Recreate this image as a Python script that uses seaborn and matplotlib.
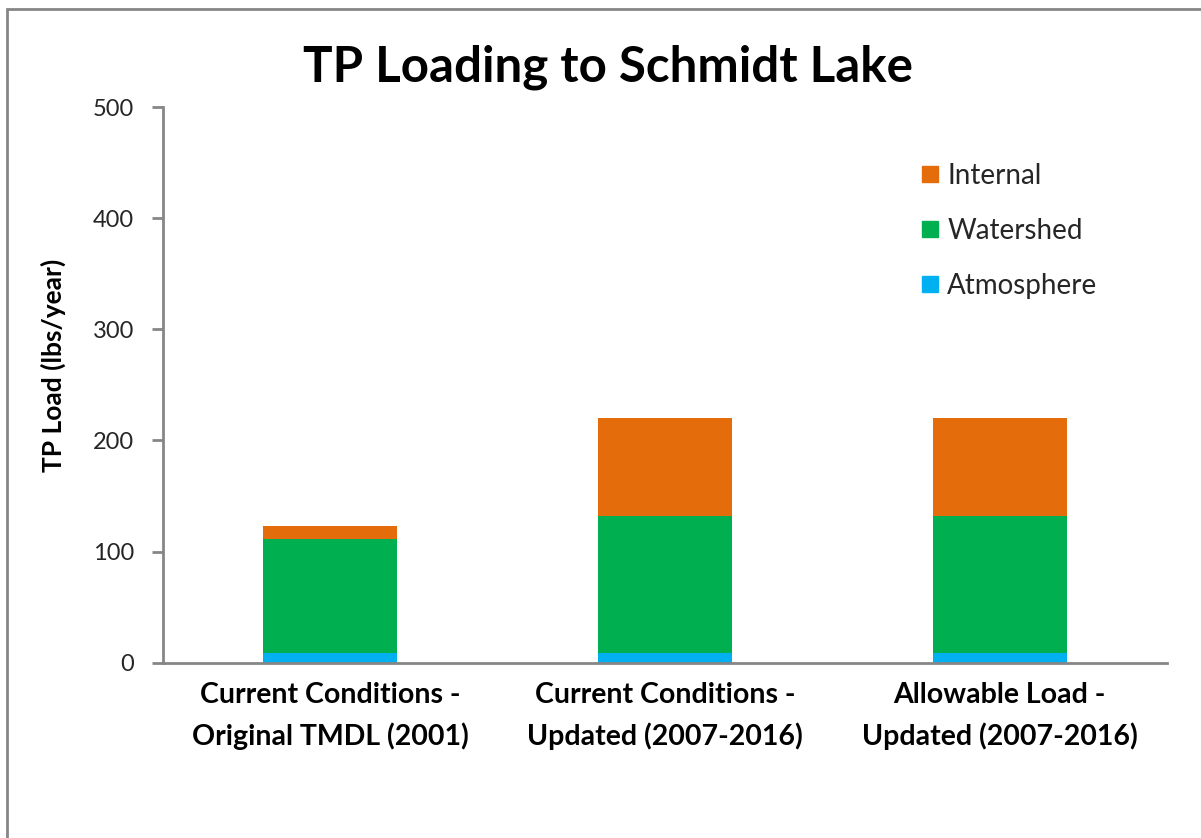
import numpy as np
import pandas as pd
import matplotlib.pyplot as plt
import seaborn as sns
from matplotlib.patches import Rectangle
from matplotlib.lines import Line2D

# data (lbs/year)
scenarios = ['Current Conditions -\nOriginal TMDL (2001)',
             'Current Conditions -\nUpdated (2007-2016)',
             'Allowable Load -\nUpdated (2007-2016)']
atmosphere = [9, 9, 9]
watershed = [102, 123, 123]
internal = [12, 88, 88]

sources = ['Atmosphere', 'Watershed', 'Internal']
colors = {'Atmosphere': '#00B0F0', 'Watershed': '#00B050', 'Internal': '#E46C0A'}

df = pd.DataFrame({'Scenario': scenarios, 'Atmosphere': atmosphere,
                   'Watershed': watershed, 'Internal': internal})
# cumulative tops so the stacks can be overdrawn from tallest to shortest
cum = df[sources].cumsum(axis=1)

sns.set_theme(style='white')
plt.rcParams['font.family'] = ['Lato', 'DejaVu Sans']

fig = plt.figure(figsize=(12.01, 8.38), dpi=100)
ax = fig.add_axes([163 / 1201, 1 - 662.7 / 838, (1167 - 163) / 1201, (662.7 - 107) / 838])

for src in reversed(sources):
    sns.barplot(x=df['Scenario'], y=cum[src], color=colors[src], width=0.4,
                saturation=1, ax=ax, linewidth=0)

ax.set_ylim(0, 500)
ax.set_xlim(-0.5, 2.5)
ax.set_yticks(range(0, 501, 100))
ax.set_xticks([0, 1, 2])
ax.set_xticklabels(scenarios, fontsize=20.5, fontweight='bold', linespacing=1.65)
ax.set_xticks([-0.5, 0.5, 1.5, 2.5], minor=True)
ax.tick_params(axis='x', which='major', length=0, pad=14, colors='#000000')
ax.tick_params(axis='x', which='minor', length=9, width=2, color='#868686', direction='out')
ax.tick_params(axis='y', length=8, width=2, color='#868686', direction='out',
               labelsize=17, labelcolor='#262626', left=True, pad=13)
ax.set_xlabel('')
ax.set_ylabel('TP Load (lbs/year)', fontsize=19, fontweight='bold', color='#000000')
ax.yaxis.set_label_coords(-0.097, 0.535)

for side in ['top', 'right']:
    ax.spines[side].set_visible(False)
for side in ['left', 'bottom']:
    ax.spines[side].set_color('#868686')
    ax.spines[side].set_linewidth(2)

handles = [Line2D([], [], marker='s', linestyle='', markersize=11.5,
                  markerfacecolor=colors[s], markeredgecolor=colors[s])
           for s in reversed(sources)]
ax.legend(handles, list(reversed(sources)), loc='upper left',
          bbox_to_anchor=(0.727, 0.945), frameon=False, fontsize=20,
          labelspacing=1.05, handletextpad=0.15, handlelength=0.9,
          labelcolor='#262626')

fig.text(608 / 1201, 1 - 82 / 838, 'TP Loading to Schmidt Lake', ha='center', va='baseline',
         fontsize=35.5, fontweight='bold', color='#000000')

# chart-area border as in the original spreadsheet export
fig.patches.append(Rectangle((7 / 1201, -0.05), 1.2, 1 - 9 / 838 + 0.05, transform=fig.transFigure,
                             fill=False, edgecolor='#868686', linewidth=2))

fig.savefig('out.png', dpi=100)
